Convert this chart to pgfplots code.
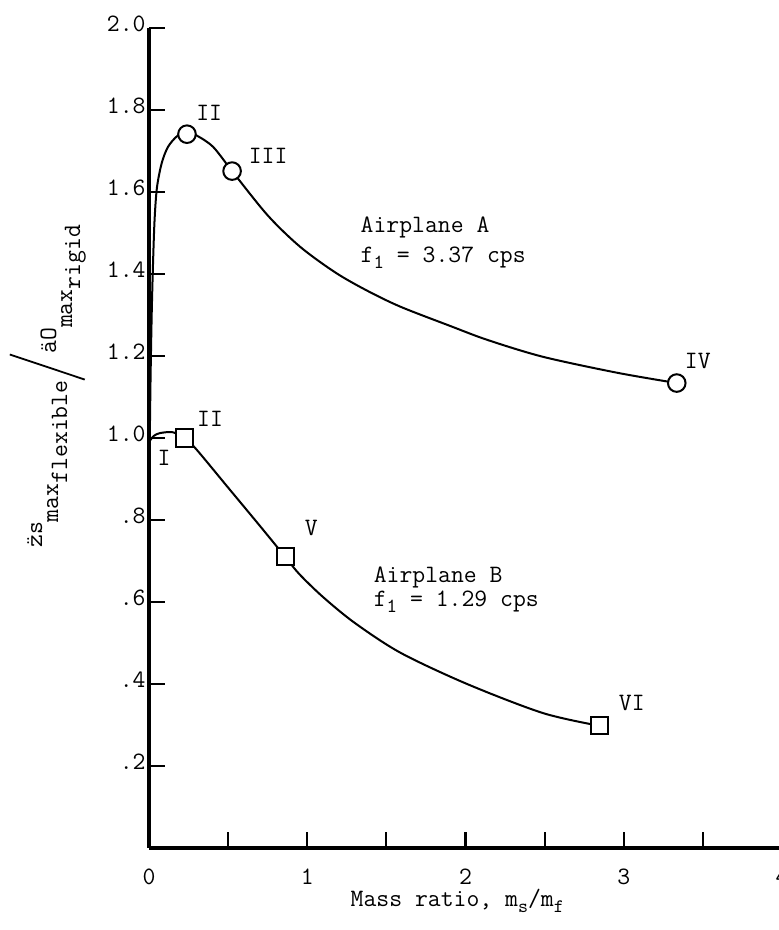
\documentclass[border=0pt]{standalone}
\usepackage{fontspec}
\renewcommand*{\familydefault}{\ttdefault}
\usepackage{pgfplots}
\pgfplotsset{compat=1.18}
\newcommand{\zdd}{\mbox{\ooalign{z\cr\char"00A8\cr}}}
\newcommand{\fnt}{\fontsize{12.5}{14}\selectfont\ttfamily}
\begin{document}
\fnt
\begin{tikzpicture}
\begin{axis}[
  name=ax, at={(0,0)}, anchor=south west,
  scale only axis, width=316.5pt, height=410pt,
  xmin=0, xmax=4, ymin=0, ymax=2,
  axis x line=bottom, axis y line=left,
  axis line style={-, line width=1.8pt},
  x axis line style={-}, y axis line style={-},
  tick align=inside,
  major tick length=8pt, minor tick length=8pt,
  tick style={black, line width=1.1pt},
  xtick={0,1,2,3,4}, minor xtick={0.5,1.5,2.5,3.5},
  xticklabels={0,1,2,3,4},
  ytick={0.2,0.4,0.6,0.8,1.0,1.2,1.4,1.6,1.8,2.0},
  yticklabels={.2,.4,.6,.8,1.0,1.2,1.4,1.6,1.8,2.0},
  /pgf/number format/assume math mode=true,
  xticklabel style={yshift=-6pt, font=\fnt},
  yticklabel style={inner xsep=1.5pt, yshift=2pt, font=\fnt},
  xlabel={Mass ratio, m\raisebox{-2.5pt}{\fontsize{9.5}{9.5}\selectfont s}/m\raisebox{-2.5pt}{\fontsize{9.5}{9.5}\selectfont f}},
  xlabel style={at={(axis description cs:0.487,0)}, anchor=base, yshift=-29.5pt, font=\fnt},
  ylabel={\zdd s\raisebox{-8pt}{max\raisebox{-4.5pt}{flexible}}\raisebox{-21.5pt}{\rotatebox{71.5}{\rule{39.5pt}{0.9pt}}}\raisebox{-7pt}{äO\raisebox{-8pt}{max\raisebox{-4pt}{rigid}}}},
  ylabel style={at={(axis description cs:-0.169,0.563)}, anchor=base, font=\fnt},
  clip=false,
]
% Airplane A curve
\addplot[smooth, line width=1pt, black] coordinates {
 (0.005,1.00) (0.010,1.15) (0.017,1.30) (0.025,1.42) (0.035,1.53)
 (0.05,1.61) (0.08,1.67) (0.12,1.71) (0.18,1.737) (0.24,1.745)
 (0.30,1.738) (0.405,1.71) (0.525,1.651) (0.75,1.543) (0.956,1.466)
 (1.18,1.403) (1.38,1.359) (1.59,1.32) (1.905,1.273) (2.14,1.239)
 (2.49,1.198) (2.96,1.159) (3.335,1.134)
};
% Airplane B curve
\addplot[smooth, line width=1pt, black] coordinates {
 (0.0,0.99) (0.03,1.005) (0.07,1.012) (0.15,1.014) (0.225,1.0)
 (0.30,0.972) (0.5,0.879) (0.7,0.786) (0.861,0.71)
 (0.95,0.668) (1.10,0.612) (1.30,0.549) (1.59,0.476) (2.01,0.40)
 (2.49,0.329) (2.848,0.298)
};
\addplot[only marks, mark=*, mark size=4.4pt, mark options={fill=white, draw=black, line width=1pt}] coordinates {
 (0.24,1.741) (0.525,1.651) (3.335,1.134)
};
\addplot[only marks, mark=square*, mark size=4.3pt, mark options={fill=white, draw=black, line width=1pt}] coordinates {
 (0.225,1.0) (0.861,0.71) (2.848,0.298)
};
% point labels
\node[font=\fnt] at (axis cs:0.38,1.793) {II};
\node[font=\fnt] at (axis cs:0.753,1.688) {III};
\node[font=\fnt] at (axis cs:3.468,1.188) {IV};
\node[font=\fnt] at (axis cs:0.386,1.046) {II};
\node[font=\fnt] at (axis cs:0.095,0.951) {I};
\node[font=\fnt] at (axis cs:1.025,0.780) {V};
\node[font=\fnt] at (axis cs:3.051,0.354) {VI};
% airplane labels
\node[anchor=base west, inner sep=0pt, font=\fnt] at (axis cs:1.335,1.50) {Airplane A};
\node[anchor=base west, inner sep=0pt, font=\fnt] at (axis cs:1.335,1.429) {f\raisebox{-3pt}{\fontsize{10}{10}\selectfont 1} = 3.37 cps};
\node[anchor=base west, inner sep=0pt, font=\fnt] at (axis cs:1.418,0.648) {Airplane B};
\node[anchor=base west, inner sep=0pt, font=\fnt] at (axis cs:1.418,0.589) {f\raisebox{-3pt}{\fontsize{10}{10}\selectfont 1} = 1.29 cps};
\end{axis}
\pgfresetboundingbox
\path[use as bounding box] (-74.5pt,-41pt) rectangle (315pt,424pt);
\end{tikzpicture}
\end{document}
